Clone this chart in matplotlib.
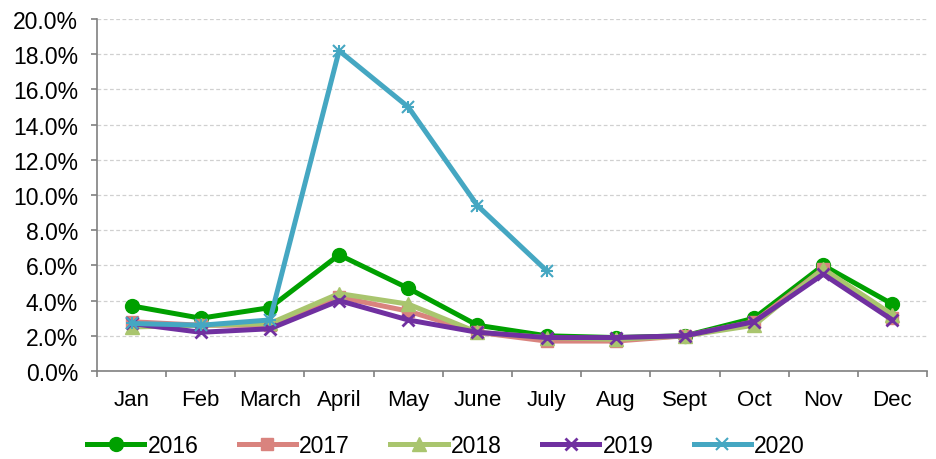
import matplotlib
matplotlib.use("Agg")
import matplotlib.pyplot as plt
from matplotlib.ticker import FuncFormatter, FixedLocator
import numpy as np

plt.rcParams['font.family'] = ['Liberation Sans', 'DejaVu Sans']

months = ["Jan", "Feb", "March", "April", "May", "June", "July", "Aug", "Sept", "Oct", "Nov", "Dec"]
y2016 = [3.7, 3.0, 3.6, 6.6, 4.7, 2.6, 2.0, 1.9, 2.0, 3.0, 6.0, 3.8]
y2017 = [2.8, 2.6, 2.6, 4.2, 3.4, 2.2, 1.7, 1.7, 2.0, 2.8, 5.8, 3.0]
y2018 = [2.5, 2.6, 2.7, 4.4, 3.8, 2.2, 1.9, 1.8, 2.0, 2.6, 5.8, 3.2]
y2019 = [2.7, 2.2, 2.4, 4.0, 2.9, 2.2, 1.9, 1.9, 2.0, 2.8, 5.5, 2.9]
y2020 = [2.7, 2.6, 2.9, 18.2, 15.0, 9.4, 5.7]

series = [
    ("2016", y2016, "#00A000", "o", 10),
    ("2017", y2017, "#D9837E", "s", 9),
    ("2018", y2018, "#A9C56E", "^", 10),
    ("2019", y2019, "#7030A0", "x", 9),
    ("2020", y2020, "#45A7C2", "x", 8),
]

fig = plt.figure(figsize=(9.37, 4.6), dpi=100)
ax = fig.add_axes([97/937, 1-372/460, (927-97)/937, (372-20)/460])

x = np.arange(len(months))
handles = []
for name, vals, col, mk, ms in series:
    xs = x[:len(vals)]
    if name == "2020":
        h, = ax.plot(xs, vals, color=col, lw=3.6, marker=mk, ms=ms, mew=1.5, label=name, zorder=5)
        ax.plot(xs, vals, color=col, lw=0, marker="+", ms=ms, mew=1.5, zorder=5)
    elif name == "2019":
        h, = ax.plot(xs, vals, color=col, lw=3.6, marker=mk, ms=ms, mew=2, label=name, zorder=4)
    else:
        h, = ax.plot(xs, vals, color=col, lw=3.6, marker=mk, ms=ms, mec=col, label=name, zorder=3)
    handles.append(h)

ax.set_xlim(-0.5, len(months) - 0.5)
ax.set_ylim(0, 20)
ax.set_yticks(np.arange(0, 20.1, 2))
ax.yaxis.set_major_formatter(FuncFormatter(lambda v, p: f"{v:.1f}%"))
ax.set_xticks(x)
ax.set_xticklabels(months)
ax.xaxis.set_minor_locator(FixedLocator(np.arange(-0.5, len(months), 1)))
ax.tick_params(axis='x', which='major', length=0, pad=13, labelsize=16)
ax.tick_params(axis='x', which='minor', length=4.5, color="#808080", width=1.2)
ax.tick_params(axis='y', length=4.5, color="#808080", width=1.2, labelsize=16.5, pad=9)

ax.grid(axis='y', color="#D0D0D0", linestyle=(0, (3, 2)), linewidth=0.9)
ax.set_axisbelow(True)
for s in ["top", "right"]:
    ax.spines[s].set_visible(False)
for s in ["left", "bottom"]:
    ax.spines[s].set_color("#808080")
    ax.spines[s].set_linewidth(1.2)

fig.legend(handles=handles, loc="center", bbox_to_anchor=(0.476, 1-447/460), ncol=5,
           frameon=False, fontsize=16.5, handlelength=2.5, handletextpad=0.15,
           columnspacing=1.75, borderpad=0)

fig.savefig("out.png", dpi=100)
